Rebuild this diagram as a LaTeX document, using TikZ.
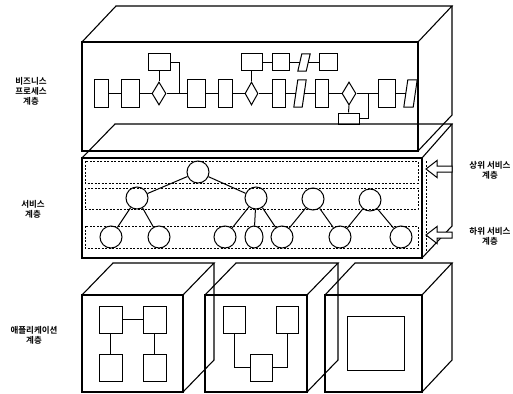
\documentclass[tikz,border=0pt]{standalone}
\usepackage{fontspec}
\newfontfamily\kr{Noto Sans CJK KR}[BoldFont={Noto Sans CJK KR Bold}]
\usetikzlibrary{shapes.geometric}
\newcommand\drawpar[1]{\draw[line width=1pt,line join=miter] (#1.south west) -- ([xshift=-4pt]#1.south east) -- (#1.north east) -- ([xshift=4pt]#1.north west) -- cycle;}
\begin{document}
\begin{tikzpicture}[x=1pt,y=-1pt,
  outline/.style={draw,line width=1.1pt,line join=miter},
  pbox/.style={draw,line width=1pt,inner sep=0pt,rectangle},
  pdia/.style={draw,line width=1pt,inner sep=0pt,diamond,minimum width=14pt,minimum height=23pt},
  ppar/.style={inner sep=0pt,rectangle},
  conn/.style={line width=1pt},
  band/.style={draw,line width=0.6pt,dash pattern=on 2pt off 1.5pt},
  circ/.style={draw,line width=1pt,circle,minimum size=22pt,inner sep=0pt},
  blockarrow/.style={draw,line width=1pt,fill=white,line join=miter},
  lbl/.style={font=\kr\bfseries\fontsize{8.5}{10}\selectfont,align=center,inner sep=0pt}]
\useasboundingbox (0,0) rectangle (513,393);

% ---------- business process layer box ----------
\draw[outline] (82,42) rectangle (418,151);
\draw[outline] (82,42) -- (116,6) -- (452,6) -- (418,42);
\draw[outline] (452,6) -- (452,115) -- (418,151);

% main row
\node[pbox,minimum width=14pt,minimum height=27pt] (r1) at (101,93.5) {};
\node[pbox,minimum width=18pt,minimum height=27pt] (r2) at (130,93.5) {};
\node[pdia] (d1) at (159,93.5) {};
\coordinate (j1) at (179,93.5);
\node[pbox,minimum width=18pt,minimum height=27pt] (r3) at (196,93.5) {};
\node[pbox,minimum width=14pt,minimum height=27pt] (r4) at (225,93.5) {};
\node[pdia,minimum width=13pt] (d2) at (251.5,93.5) {};
\node[pbox,minimum width=13pt,minimum height=27pt] (r5) at (278.5,93.5) {};
\node[ppar,minimum width=12pt,minimum height=27pt] (p1) at (300,93.5) {};
\drawpar{p1}
\node[pbox,minimum width=13pt,minimum height=27pt] (r6) at (321.5,93.5) {};
\node[pdia] (d3) at (349,93.5) {};
\coordinate (j2) at (368,93.5);
\node[pbox,minimum width=17pt,minimum height=27pt] (r7) at (386.5,93.5) {};
\node[ppar,minimum width=13pt,minimum height=27pt] (p2) at (410.5,93.5) {};
\drawpar{p2}

% upper row
\node[pbox,minimum width=22pt,minimum height=17pt] (u1) at (159,62.5) {};
\node[pbox,minimum width=21pt,minimum height=17pt] (u2) at (251.5,62.5) {};
\node[pbox,minimum width=17pt,minimum height=17pt] (u3) at (280.5,62.5) {};
\node[ppar,minimum width=12pt,minimum height=17pt] (up1) at (304,62.5) {};
\drawpar{up1}
\node[pbox,minimum width=18pt,minimum height=17pt] (u4) at (328,62.5) {};
% lower box
\node[pbox,minimum width=21pt,minimum height=11pt] (l1) at (348.5,118.5) {};

\draw[conn] (r1) -- (r2);
\draw[conn] (r2) -- (d1);
\draw[conn] (d1) -- (r3);
\draw[conn] (r3) -- (r4);
\draw[conn] (r4) -- (d2);
\draw[conn] (d2) -- (r5);
\draw[conn] (r5) -- ([xshift=2pt]p1.west);
\draw[conn] ([xshift=-2pt]p1.east) -- (r6);
\draw[conn] (r6) -- (d3);
\draw[conn] (d3) -- (r7);
\draw[conn] (r7) -- ([xshift=2pt]p2.west);
\draw[conn] (u1.south) -- (d1.north);
\draw[conn] (u1.east) -| (j1);
\draw[conn] (u2.south) -- (d2.north);
\draw[conn] (u2) -- (u3);
\draw[conn] (u3) -- ([xshift=2pt]up1.west);
\draw[conn] ([xshift=-2pt]up1.east) -- (u4);
\draw[conn] (d3.south) -- (l1.north);
\draw[conn] (l1.east) -| (j2);

% ---------- service layer box ----------
\draw[outline] (82,158) rectangle (422,258);
\draw[outline] (82,158) -- (115,124) -- (452,124) -- (422,158);
\draw[outline] (452,124) -- (452,226) -- (422,258);

\draw[band] (85,161) rectangle (418,183);
\draw[band] (85,188) rectangle (418,209);
\draw[band] (85,226) rectangle (418,248);
\draw[band] (426,161) -- (426,251);

\node[circ] (c0) at (198,172) {};
\node[circ] (c1) at (137,198) {};
\node[circ] (c2) at (256,198) {};
\node[circ] (c3) at (313,199) {};
\node[circ] (c4) at (370,200) {};
\node[circ] (la) at (111,237) {};
\node[circ] (lb) at (159,237) {};
\node[circ] (lc) at (225,237) {};
\node[draw,line width=1pt,ellipse,minimum width=18pt,minimum height=22pt,inner sep=0pt] (ld) at (254,237) {};
\node[circ] (le) at (282,237) {};
\node[circ] (lf) at (340,237) {};
\node[circ] (lg) at (401,237) {};

\draw[conn] (c0) -- (c1);
\draw[conn] (c0) -- (c2);
\draw[conn] (c1) -- (la);
\draw[conn] (c1) -- (lb);
\draw[conn] (c2) -- (lc);
\draw[conn] (c2) -- (ld);
\draw[conn] (c2) -- (le);
\draw[conn] (le) -- (c3);
\draw[conn] (c3) -- (lf);
\draw[conn] (lf) -- (c4);
\draw[conn] (c4) -- (lg);

% arrows
\coordinate (ua) at (426,169);
\coordinate (la2) at (426,235);
\draw[blockarrow] (ua) -- ++(11,-8.5) -- ++(0,5.5) -- ++(15,0) -- ++(0,6) -- ++(-15,0) -- ++(0,5.5) -- cycle;
\draw[blockarrow] (la2) -- ++(11,-8.5) -- ++(0,5.5) -- ++(15,0) -- ++(0,6) -- ++(-15,0) -- ++(0,5.5) -- cycle;

\node[lbl] (tu) at (490,170) {상위 서비스\\계층};
\node[lbl] (tl) at (490,236) {하위 서비스\\계층};

% ---------- application layer cubes ----------
\draw[outline] (82,295) rectangle (183,392);
\draw[outline] (82,295) -- (113,263) -- (214,263) -- (183,295);
\draw[outline] (214,263) -- (214,360) -- (183,392);

\draw[outline] (205,295) rectangle (307,392);
\draw[outline] (205,295) -- (236,263) -- (338,263) -- (307,295);
\draw[outline] (338,263) -- (338,360) -- (307,392);

\draw[outline] (325,295) rectangle (422,392);
\draw[outline] (325,295) -- (355,263) -- (452,263) -- (422,295);
\draw[outline] (452,263) -- (452,360) -- (422,392);

\node[pbox,minimum width=23pt,minimum height=27pt] (a1) at (110.5,319.5) {};
\node[pbox,minimum width=23pt,minimum height=27pt] (a2) at (154.5,319.5) {};
\node[pbox,minimum width=23pt,minimum height=27pt] (a3) at (110.5,367.5) {};
\node[pbox,minimum width=23pt,minimum height=27pt] (a4) at (154.5,367.5) {};
\draw[conn] (a1) -- (a2);
\draw[conn] (a1) -- (a3);
\draw[conn] (a2) -- (a4);

\node[pbox,minimum width=22pt,minimum height=27pt] (b1) at (234,319.5) {};
\node[pbox,minimum width=22pt,minimum height=27pt] (b2) at (287,319.5) {};
\node[pbox,minimum width=22pt,minimum height=27pt] (b3) at (261,367.5) {};
\draw[conn] (b1.south) |- (b3.west);
\draw[conn] (b2.south) |- (b3.east);

\node[pbox,minimum width=57pt,minimum height=54pt] (s1) at (375.5,343) {};

% ---------- left labels ----------
\node[lbl] (t1) at (31,91) {비즈니스\\프로세스\\계층};
\node[lbl] (t2) at (33,209) {서비스\\계층};
\node[lbl] (t3) at (34,335.5) {애플리케이션\\계층};
\end{tikzpicture}
\end{document}
